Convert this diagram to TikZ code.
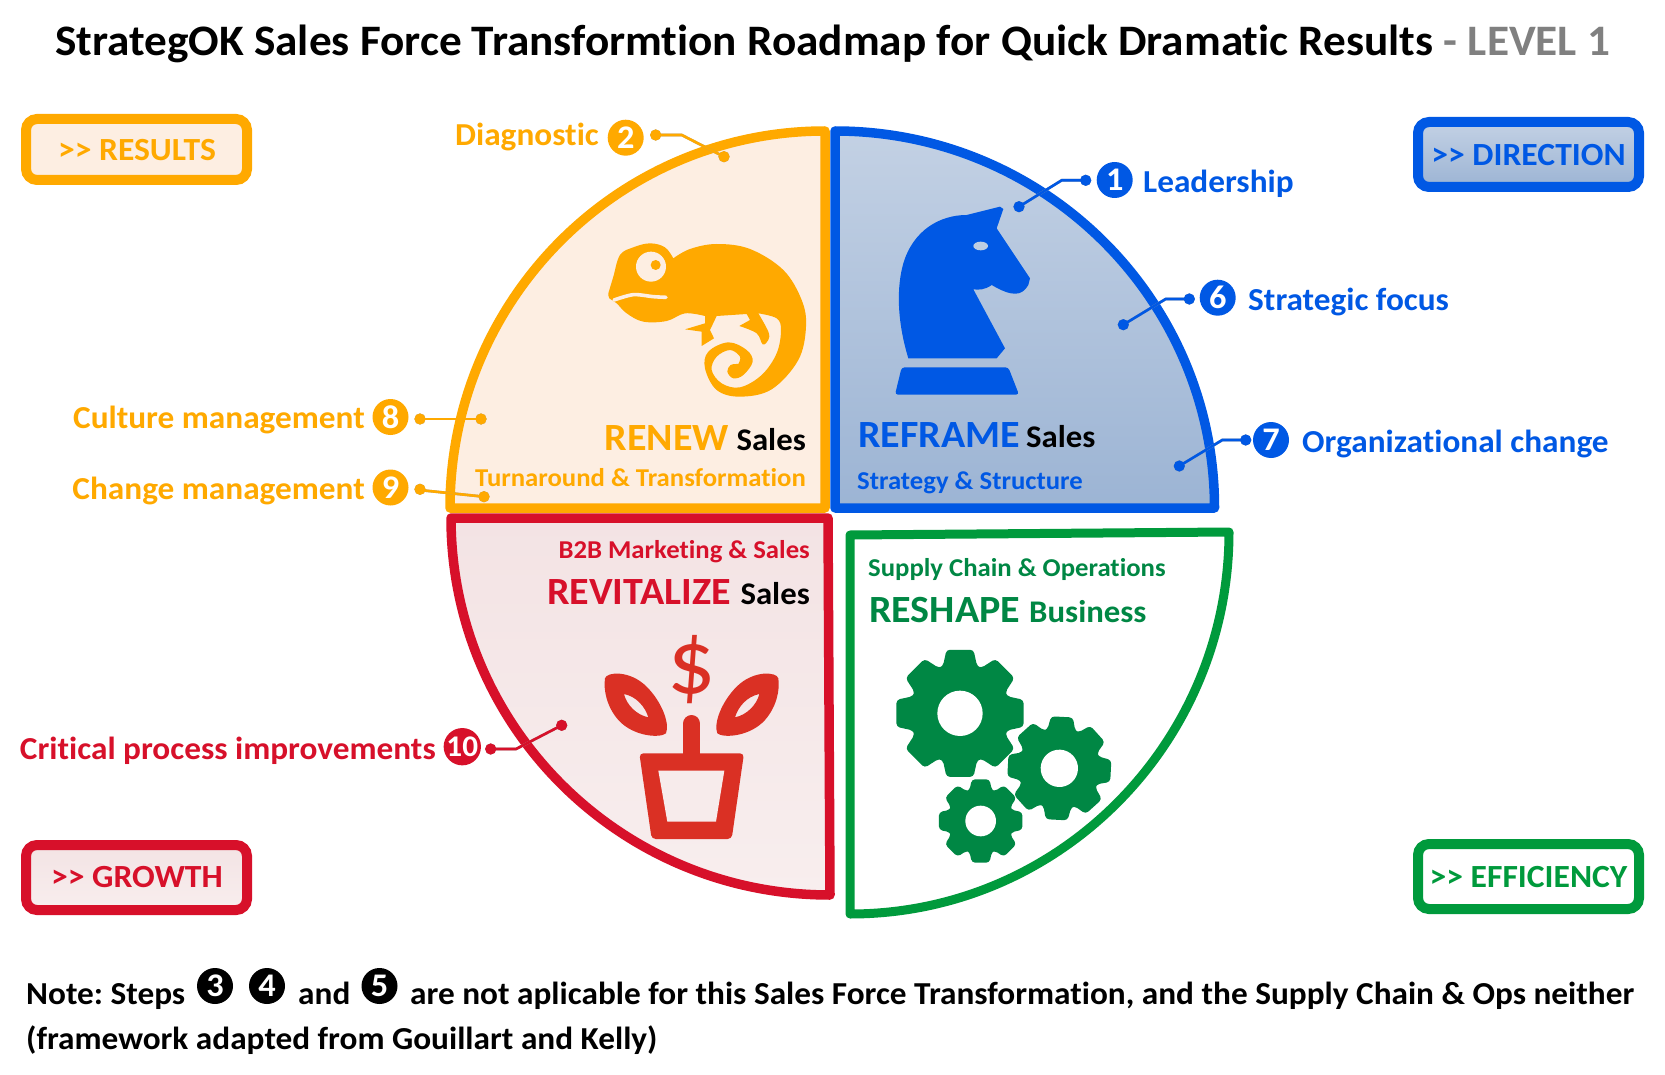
\documentclass[tikz,border=0pt]{standalone}
\usepackage{fontspec}
\setmainfont[FakeStretch=1.04,Ligatures=NoCommon,RawFeature={-liga;-clig}]{Carlito}
\frenchspacing
\definecolor{cor}{HTML}{FFA900}
\definecolor{cbl}{HTML}{0058E4}
\definecolor{cre}{HTML}{D7102A}
\definecolor{cgr}{HTML}{009A3C}
\definecolor{cdg}{HTML}{008744}
\definecolor{cpot}{HTML}{DA3024}
\definecolor{forg}{HTML}{FDEEE2}
\definecolor{feye}{HTML}{BECEE2}
\definecolor{fpot}{HTML}{F7EBEB}
\definecolor{ftop}{HTML}{C3D1E4}
\definecolor{fbot}{HTML}{9CB4D4}
\definecolor{rtop}{HTML}{F3E3E4}
\definecolor{rbot}{HTML}{F8EEEE}
\newcommand{\fsz}[1]{\fontsize{#1pt}{#1pt}\selectfont}
\newcommand{\gearicon}[6]{%
 \begin{scope}[shift={(#1,#2)},rotate=#6]
 \fill[cdg,rounded corners=3.5pt] (-20:#4) -- (-12:#3) -- (12:#3) -- (20:#4)
  \foreach \a in {45,90,...,315}{
   -- (\a-20:#4) -- (\a-12:#3) -- (\a+12:#3) -- (\a+20:#4)
  } -- cycle;
 \fill[white] (0,0) circle (#5);
 \end{scope}}
\tikzset{
 num/.style={circle,minimum size=36pt,inner sep=0pt,fill=#1,text=white,font=\fsz{33}\bfseries},
 lab/.style={inner sep=0pt,yshift=-1pt,text=#1,font=\fsz{32}\bfseries},
 big/.style={inner sep=0pt,yshift=-1pt,text=#1,font=\fsz{38.5}\bfseries},
 sales/.style={inner sep=0pt,yshift=-1pt,text=#1,font=\fsz{31.5}\bfseries},
 subt/.style={inner sep=0pt,yshift=-1pt,text=#1,font=\fsz{25.7}\bfseries},
 quad/.style={draw=#1,line width=9.5pt,line join=round},
 tag/.style={draw=#1,line width=10pt,rounded corners=11pt},
 tagt/.style={inner sep=0pt,text=#1,font=\fsz{32.3}\bfseries},
 conn/.style={draw=#1,line width=2.6pt},
 shad/.style={draw=gray!75,line width=2.6pt},
 note/.style={inner sep=0pt,yshift=-1pt,font=\fsz{32}\bfseries}
}
\newcommand{\callout}[4]{% colour, a, elbow, b
 \begin{scope}[shift={(1.6,2.2)}]
 \draw[shad] (#2) -- (#3) -- (#4);
 \fill[gray!75] (#2) circle (5.6) (#4) circle (5.6);
 \end{scope}
 \draw[conn=#1] (#2) -- (#3) -- (#4);
 \fill[#1] (#2) circle (5.6) (#4) circle (5.6);}
\begin{document}
\begin{tikzpicture}[x=1pt,y=-1pt]
\useasboundingbox (0,0) rectangle (1665,1075);
\fill[white] (0,0) rectangle (1665,1075);
% title
\node[anchor=base west,inner sep=0pt,font=\fsz{43.5}\bfseries] (title) at (55,56) {StrategOK Sales Force Transformtion Roadmap for Quick Dramatic Results \textcolor{gray}{- LEVEL 1}};
% quadrants
\draw[quad=cor,fill=forg] (825,131) .. controls (618,131) and (450,300) .. (450,508) -- (825,508) -- cycle;
\draw[quad=cbl,top color=ftop,bottom color=fbot] (835,131) .. controls (1045,131) and (1214.5,300) .. (1214.5,508) -- (835,508) -- cycle;
\draw[quad=cre,top color=rtop,bottom color=rbot] (451,518) .. controls (451,726) and (620,895) .. (830,895) -- (828,518) -- cycle;
\draw[quad=cgr,fill=white,line width=9pt] (850,535) -- (1229,532) .. controls (1229,742) and (1060,914) .. (850,914) -- cycle;
% chameleon
\begin{scope}[shift={(400,100)},scale=1/3]
\fill[cor] plot[smooth,tension=.6] coordinates {(625,580) (640,530) (660,465) (700,442) (750,430) (795,442) (820,475)}
 -- plot[smooth,tension=.6] coordinates {(820,475) (870,447) (950,432) (1050,447) (1150,510) (1205,600) (1218,680) (1195,780) (1115,868) (1020,890) (950,870) (915,805) (925,755) (985,727) (1040,750) (1058,785) (1030,825) (1000,835) (982,815) (992,795) (1015,792)}
 -- plot[smooth,tension=.6] coordinates {(1015,792) (1020,770) (990,750) (950,770) (935,810) (965,850) (1020,862) (1085,825) (1130,760) (1143,690) (1130,655) (1075,640)}
 -- plot[smooth,tension=.6] coordinates {(1075,640) (1105,695) (1105,720) (1088,733) (1070,700) (1018,678)}
 -- (1050,660) -- (1040,642) -- (950,648) -- (930,690) -- (942,715) -- (905,738) -- (905,695) -- (855,688) -- (915,670) -- (915,648)
 -- plot[smooth,tension=.6] coordinates {(915,648) (855,640) (800,663) (730,665) (680,640) (650,610) (628,595) (625,580)} -- cycle;
\fill[forg] (753,500) circle (45);
\fill[cor] (767,495) circle (15);
\draw[forg,line width=3.6pt,line cap=round] plot[smooth] coordinates {(642,600) (700,584) (760,590) (798,592)};
\end{scope}
% knight
\begin{scope}[shift={(820,100)},scale=1/3]
\fill[cbl] (440,345) -- (540,320) -- (550,327) -- (530,385) -- (630,535) -- (625,555)
 .. controls (605,590) and (575,590) .. (515,555) .. controls (495,570) and (475,570) .. (460,568)
 -- (555,745) -- (530,775) -- (265,775) .. controls (230,660) and (230,560) .. (250,490) .. controls (280,390) and (360,345) .. (440,345) -- cycle;
\fill[cbl,rounded corners=3pt] (245,802) -- (565,802) -- (597,884) -- (225,884) -- cycle;
\fill[feye] (482,438) ellipse (22 and 13);
\end{scope}
% plant
\begin{scope}[shift={(430,500)},scale=1/3]
\fill[cpot,even odd rule] (525,535) .. controls (530,515) and (600,510) .. (650,560) .. controls (695,605) and (720,670) .. (708,700) .. controls (690,715) and (610,710) .. (565,660) .. controls (530,620) and (520,570) .. (525,535) -- cycle
 (582,582) .. controls (620,590) and (645,620) .. (655,652) .. controls (620,645) and (590,615) .. (582,582) -- cycle;
\fill[cpot,even odd rule] (1045,535) .. controls (1040,515) and (970,510) .. (920,560) .. controls (875,605) and (850,670) .. (862,700) .. controls (880,715) and (960,710) .. (1005,660) .. controls (1040,620) and (1050,570) .. (1045,535) -- cycle
 (988,582) .. controls (950,590) and (925,620) .. (915,652) .. controls (950,645) and (980,615) .. (988,582) -- cycle;
\draw[cpot,line width=17.3pt,line cap=round] (785,671) -- (785,775);
\fill[cpot,rounded corners=4pt] (628,760) -- (942,760) -- (905,1017) -- (665,1017) -- cycle;
\fill[fpot] (685,812) -- (883,812) -- (858,965) -- (712,965) -- cycle;
\node[inner sep=0pt,text=cpot,font=\fsz{92}] (dollar) at (785,510) {\$};
\end{scope}
% gears
\begin{scope}[shift={(830,510)},scale=1/3]
\gearicon{390}{610}{195}{150}{68}{0}
\gearicon{688}{775}{158}{122}{56}{-3}
\gearicon{452}{933}{128}{98}{46}{0}
\end{scope}
% corner tags
\draw[tag=cor,fill=forg] (26,119) rectangle (247,180);
\node[tagt=cor] (tres) at (137,150) {>{}> RESULTS};
\draw[tag=cbl,top color=ftop,bottom color=fbot] (1418,122) rectangle (1639,187);
\node[tagt=cbl] (tdir) at (1528.5,155) {>{}> DIRECTION};
\draw[tag=cre,top color=rtop,bottom color=rbot] (26,845) rectangle (247,910);
\node[tagt=cre] (tgro) at (137,877) {>{}> GROWTH};
\draw[tag=cgr,fill=white] (1418,844) rectangle (1639,909);
\node[tagt=cgr] (teff) at (1528.5,877) {>{}> EFFICIENCY};
% callouts
\coordinate (c2a) at (655.7,135); \coordinate (c2e) at (681.7,135); \coordinate (c2b) at (724,156.7);
\coordinate (c8a) at (420,419); \coordinate (c8e) at (450,419); \coordinate (c8b) at (481,419);
\coordinate (c9a) at (420,489.3); \coordinate (c9e) at (426,490.7); \coordinate (c9b) at (484,496.7);
\coordinate (c1a) at (1085.7,180.3); \coordinate (c1e) at (1061.7,180.3); \coordinate (c1b) at (1019,206.7);
\coordinate (c6a) at (1189.3,299); \coordinate (c6e) at (1165.7,299); \coordinate (c6b) at (1123.3,324.7);
\coordinate (c7a) at (1245.7,440); \coordinate (c7e) at (1222.3,440); \coordinate (c7b) at (1179.3,466);
\coordinate (c10a) at (490.7,749); \coordinate (c10e) at (516,749); \coordinate (c10b) at (561.7,725.3);
\callout{cor}{c2a}{c2e}{c2b}
\callout{cor}{c8a}{c8e}{c8b}
\callout{cor}{c9a}{c9e}{c9b}
\callout{cbl}{c1a}{c1e}{c1b}
\callout{cbl}{c6a}{c6e}{c6b}
\callout{cbl}{c7a}{c7e}{c7b}
\callout{cre}{c10a}{c10e}{c10b}
% numbers
\node[num=cor] (n2) at (625.7,137.7) {2};
\node[num=cor] (n8) at (390.5,417) {8};
\node[num=cor] (n9) at (390.5,487.5) {9};
\node[num=cbl] (n1) at (1114.7,180) {1};
\node[num=cbl] (n6) at (1217.7,297.7) {6};
\node[num=cbl] (n7) at (1271,440) {7};
\node[num=cre,font=\fsz{30}\bfseries] (n10) at (462.3,746.7) {10};
% outer labels
\node[lab=cor,anchor=base east] (l2) at (599,145) {Diagnostic};
\node[lab=cor,anchor=base east] (l8) at (365,427) {Culture management};
\node[lab=cor,anchor=base east] (l9) at (365,498) {Change management};
\node[lab=cbl,anchor=base west] (l1) at (1143,192) {Leadership};
\node[lab=cbl,anchor=base west] (l6) at (1248,310) {Strategic focus};
\node[lab=cbl,anchor=base west] (l7) at (1302,451) {Organizational change};
\node[lab=cre,anchor=base east] (l10) at (436,758) {Critical process improvements};
% inner labels
\node[big=cor,anchor=base east] (renew) at (729,449) {RENEW};
\node[sales=black,anchor=base east] (renews) at (806,449) {Sales};
\node[subt=cor,anchor=base east] (renewt) at (806,485) {Turnaround \& Transformation};
\node[big=cbl,anchor=base west] (refr) at (858,446) {REFRAME};
\node[sales=black,anchor=base west] (refrs) at (1026,446) {Sales};
\node[subt=cbl,anchor=base west] (refrt) at (857,488) {Strategy \& Structure};
\node[subt=cre,anchor=base east] (revt) at (810,557) {B2B Marketing \& Sales};
\node[big=cre,anchor=base east] (rev) at (731,603) {REVITALIZE};
\node[sales=black,anchor=base east] (revs) at (810,603) {Sales};
\node[subt=cdg,anchor=base west] (rest) at (868,575) {Supply Chain \& Operations};
\node[big=cdg,anchor=base west] (res) at (869,621) {RESHAPE};
\node[sales=cdg,anchor=base west] (ress) at (1029,621) {Business};
% note
\node[note,anchor=base west] (note1) at (26,1003) {Note: Steps};
\node[num=black] (n3) at (215,986) {3};
\node[num=black] (n4) at (267,986) {4};
\node[note,anchor=base west] (note2) at (298,1003) {and};
\node[num=black] (n5) at (379.5,986) {5};
\node[note,anchor=base west] (note3) at (410,1003) {are not aplicable for this Sales Force Transformation, and the Supply Chain \& Ops neither};
\node[note,anchor=base west] (note4) at (26,1048) {(framework adapted from Gouillart and Kelly)};
\end{tikzpicture}
\end{document}
